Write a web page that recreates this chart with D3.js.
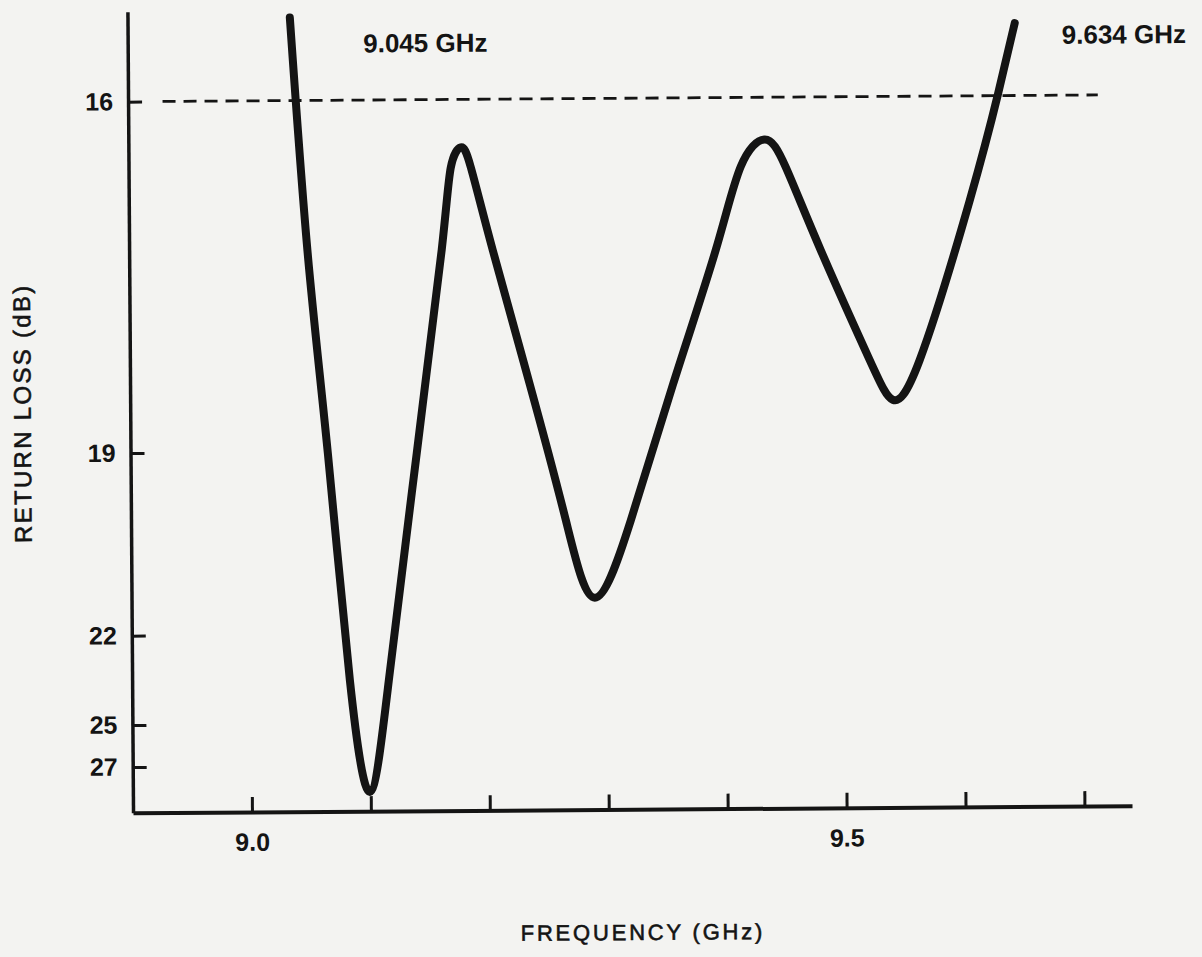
<!DOCTYPE html>
<html>
<head>
<meta charset="utf-8">
<script src="https://cdn.jsdelivr.net/npm/d3@7"></script>
<style>
  html, body { margin: 0; padding: 0; background: #f3f3f1; }
  svg { display: block; }
  text { font-family: "Liberation Sans", Arial, Helvetica, sans-serif; fill: #141414; }
</style>
</head>
<body>
<svg id="chart" width="1202" height="957"></svg>
<script>
// ---- data ----
const freqGHz = [9.0365, 9.0501, 9.0659, 9.0831, 9.0992, 9.1159, 9.1407,
                 9.1629, 9.1710, 9.1795, 9.1878, 9.2058, 9.2362, 9.2656, 9.2896,
                 9.3203, 9.3564, 9.3933, 9.4148, 9.4352, 9.4527, 9.4816, 9.5221,
                 9.5412, 9.5642, 9.6072, 9.6313, 9.6460];
const returnLossDb = [15.29, 17.30, 19.02, 23.54, 28.27, 23.55, 19.03,
                      17.28, 16.58, 16.41, 16.58, 17.29, 18.44, 20.15, 21.43,
                      20.16, 18.45, 17.30, 16.59, 16.36, 16.60, 17.31, 18.25,
                      18.59, 18.25, 16.89, 15.995, 15.38];
const xTickValues = [9.0, 9.1, 9.2, 9.3, 9.4, 9.5, 9.6, 9.7];
const xLabeledTicks = [9.0, 9.5];
const yTickValues = [16, 19, 22, 25, 27];
const thresholdDb = 16;
const thresholdSpanGHz = [8.929, 9.7154];
const bandEdgeLabels = ["9.045 GHz", "9.634 GHz"];
const xDomainGHz = [8.9, 9.74];
const yDomainEndsDb = [15.23, 29.18];
const xTitle = "FREQUENCY (GHz)";
const yTitle = "RETURN LOSS (dB)";

// ---- drawing ----
const svg = d3.select("#chart");
const g = svg.append("g").attr("transform", "rotate(-0.4, 630, 450)");

const x = d3.scaleLinear().domain(xDomainGHz).range([130.5, 1129.5]);
// the printed return-loss scale is non-uniform: piecewise linear through its ticks
const y = d3.scaleLinear()
  .domain([yDomainEndsDb[0], ...yTickValues, yDomainEndsDb[1]])
  .range([8.2, 98.2, 449.6, 632.2, 721.5, 763.5, 809.3]);

const ink = "#141414";

// x axis
const xAxis = d3.axisBottom(x)
  .tickValues(xTickValues)
  .tickSizeInner(-15)
  .tickSizeOuter(0)
  .tickPadding(21)
  .tickFormat(d => xLabeledTicks.some(v => Math.abs(v - d) < 1e-9) ? d3.format(".1f")(d) : "");
const gx = g.append("g").attr("transform", `translate(0,${y(yDomainEndsDb[1])})`).call(xAxis);
gx.select(".domain").attr("stroke", ink).attr("stroke-width", 4);
gx.selectAll(".tick line").attr("stroke", ink).attr("stroke-width", 3);
gx.selectAll(".tick text").attr("font-size", 25).attr("font-weight", "bold").attr("fill", ink)
  .attr("font-family", "Liberation Sans, Arial, sans-serif");

// y axis
const yAxis = d3.axisLeft(y)
  .tickValues(yTickValues)
  .tickSizeInner(-14)
  .tickSizeOuter(0)
  .tickPadding(15)
  .tickFormat(d3.format("d"));
const gy = g.append("g").attr("transform", `translate(${x(xDomainGHz[0])},0)`).call(yAxis);
gy.select(".domain").attr("stroke", ink).attr("stroke-width", 3.5);
gy.selectAll(".tick line").attr("stroke", ink).attr("stroke-width", 3);
gy.selectAll(".tick text").attr("font-size", 25).attr("font-weight", "bold").attr("fill", ink)
  .attr("font-family", "Liberation Sans, Arial, sans-serif");

// threshold dashed line
g.append("line")
  .attr("x1", x(thresholdSpanGHz[0])).attr("x2", x(thresholdSpanGHz[1]))
  .attr("y1", y(thresholdDb)).attr("y2", y(thresholdDb))
  .attr("stroke", ink).attr("stroke-width", 2.8)
  .attr("stroke-dasharray", "13,8");

// response curve
const pts = freqGHz.map((f, i) => [f, returnLossDb[i]]);
const line = d3.line()
  .x(d => x(d[0])).y(d => y(d[1]))
  .curve(d3.curveNatural);
g.append("path")
  .datum(pts)
  .attr("d", line)
  .attr("fill", "none")
  .attr("stroke", ink)
  .attr("stroke-width", 8)
  .attr("stroke-linecap", "round")
  .attr("stroke-linejoin", "round");

// band-edge labels
g.append("text").attr("x", 366).attr("y", 50.6)
  .attr("font-size", 26).attr("font-weight", "bold").text(bandEdgeLabels[0]);
g.append("text").attr("x", 1064.6).attr("y", 46.8)
  .attr("font-size", 26).attr("font-weight", "bold").text(bandEdgeLabels[1]);

// axis titles
g.append("text")
  .attr("transform", "translate(31,409) rotate(-90)")
  .attr("text-anchor", "middle")
  .attr("font-size", 24).attr("letter-spacing", 2.3)
  .attr("stroke", ink).attr("stroke-width", 0.6)
  .text(yTitle);
g.append("text")
  .attr("x", 639.5).attr("y", 940)
  .attr("text-anchor", "middle")
  .attr("font-size", 22).attr("letter-spacing", 2.8)
  .attr("stroke", ink).attr("stroke-width", 0.6)
  .text(xTitle);
</script>
</body>
</html>
